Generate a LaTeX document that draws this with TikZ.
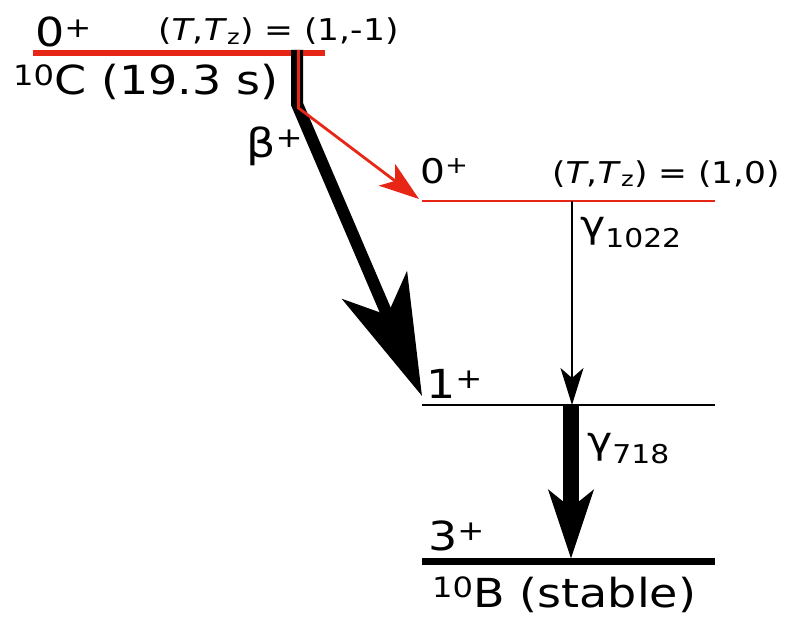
\documentclass[tikz,border=0pt]{standalone}
\usepackage{fontspec}
\setmainfont{DejaVu Sans}[FakeStretch=1.15]
\usetikzlibrary{arrows.meta}
\definecolor{lvred}{RGB}{232,38,22}

\begin{document}
\begin{tikzpicture}[x=1pt, y=-1pt,
  lab/.style={inner sep=0pt, font=\fontsize{40}{44}\selectfont},
  spin/.style={inner sep=0pt, font=\fontsize{34}{38}\selectfont},
  iso/.style={inner sep=0pt, font=\fontsize{30}{33}\selectfont},
  gam/.style={inner sep=0pt, font=\fontsize{37}{40}\selectfont}
]
  \useasboundingbox (0,0) rectangle (785,618);

  % Levels
  \coordinate (cL) at (33,53);   \coordinate (cR) at (325,53);
  \coordinate (aL) at (422,201); \coordinate (aR) at (715,201);
  \coordinate (gL) at (422,405); \coordinate (gR) at (715,405);
  \coordinate (sL) at (422,561); \coordinate (sR) at (715,561);
  \draw[lvred, line width=6pt] (cL) -- (cR);
  \draw[lvred, line width=2pt] (aL) -- (aR);
  \draw[line width=2pt] (gL) -- (gR);
  \draw[line width=7pt] (sL) -- (sR);

  % Beta decay
  \coordinate (bA) at (297,50);  \coordinate (bK) at (297,104);
  \coordinate (bT) at (422,396);
  \coordinate (rA) at (298.5,50);  \coordinate (rK) at (298.5,108);
  \coordinate (rT) at (419,199);
  \draw[line width=12pt, -{Stealth[length=120pt, width=70pt, inset=32pt]}]
    (bA) -- (bK) -- (bT);
  \draw[lvred, line width=2.8pt, -{Stealth[length=40pt, width=27pt, inset=10pt]}]
    (rA) -- (rK) -- (rT);

  % Gamma decays
  \coordinate (y1) at (572,201); \coordinate (y2) at (572,405);
  \coordinate (y3) at (571,405); \coordinate (y4) at (571,559);
  \draw[line width=1.5pt, -{Stealth[length=37pt, width=23pt, inset=10pt]}] (y1) -- (y2);
  \draw[line width=16pt, -{Stealth[length=68pt, width=44pt, inset=17pt]}] (y3) -- (y4);

  % Labels
  \node[lab, anchor=base west] (jC) at (35,47) {0\textsuperscript{+}};
  \node[iso, anchor=base east] (tC) at (399,41) {(\textit{T},\textit{T}\textsubscript{z}) = (1,-1)};
  \node[lab, anchor=base west] (nC) at (13,95) {\textsuperscript{10}C (19.3 s)};
  \node[lab, anchor=base west] (bt) at (246,157) {β\textsuperscript{+}};
  \node[spin, anchor=base west] (ja) at (420,183) {0\textsuperscript{+}};
  \node[iso, anchor=base west] (ta) at (552,183) {(\textit{T},\textit{T}\textsubscript{z}) = (1,0)};
  \node[gam, anchor=base west] (ya) at (580,237) {γ\textsubscript{1022}};
  \node[lab, anchor=base west] (jg) at (426,398) {1\textsuperscript{+}};
  \node[gam, anchor=base west] (yg) at (587,453) {γ\textsubscript{718}};
  \node[lab, anchor=base west] (js) at (428,550) {3\textsuperscript{+}};
  \node[lab, anchor=base west] (ns) at (432,607) {\textsuperscript{10}B (stable)};
\end{tikzpicture}
\end{document}
